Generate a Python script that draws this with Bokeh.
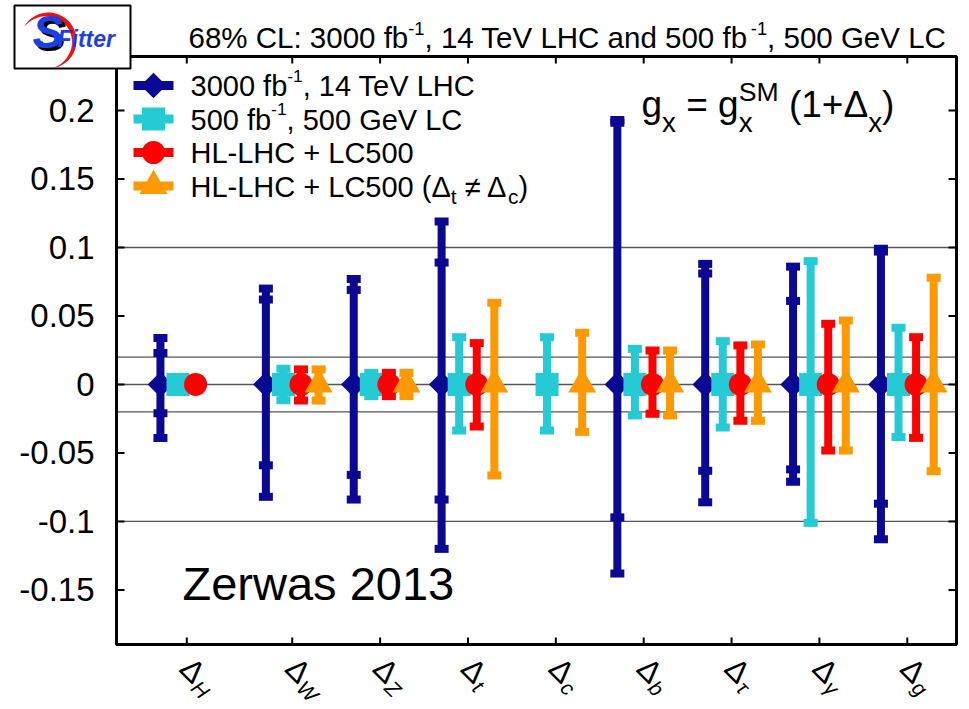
import numpy as np
from bokeh.plotting import figure
from bokeh.models import Range1d, Label, PolyAnnotation, BoxAnnotation
from bokeh.core.properties import value
from bokeh.embed import file_html
from bokeh.resources import INLINE

# ---------------- data ----------------
categories = ["H", "W", "Z", "t", "c", "b", "τ", "γ", "g"]
cat_x = [-0.2, 1, 2, 3, 4, 5, 6, 7, 8]

lhc_center = [0, 0, 0, 0, None, 0, 0, 0, 0]
lhc_outer_hi = [0.034, 0.070, 0.077, 0.119, None, 0.193, 0.088, 0.086, 0.099]
lhc_outer_lo = [-0.039, -0.082, -0.084, -0.120, None, -0.138, -0.086, -0.071, -0.113]
lhc_inner_hi = [0.023, 0.062, 0.069, 0.089, None, 0.191, 0.081, 0.061, 0.097]
lhc_inner_lo = [-0.021, -0.059, -0.066, -0.084, None, -0.097, -0.063, -0.062, -0.087]

lc_center = [0, 0, 0, 0, 0, 0, 0, 0, 0]
lc_hi = [0.004, 0.0115, 0.0085, 0.0345, 0.0345, 0.026, 0.0316, 0.090, 0.0414]
lc_lo = [-0.004, -0.0115, -0.0085, -0.0336, -0.0336, -0.0226, -0.0314, -0.101, -0.0384]

comb_center = [0, 0, 0, 0, None, 0, 0, 0, 0]
comb_hi = [0.004, 0.011, 0.0085, 0.0302, None, 0.0248, 0.0285, 0.0443, 0.0345]
comb_lo = [-0.004, -0.0117, -0.0085, -0.0307, None, -0.0214, -0.0265, -0.0482, -0.039]

combtc_center = [None, 0, 0, 0, 0, 0, 0, 0, 0]
combtc_hi = [None, 0.011, 0.0085, 0.0596, 0.0377, 0.0248, 0.0292, 0.0467, 0.0779]
combtc_lo = [None, -0.0117, -0.0085, -0.0664, -0.0346, -0.0226, -0.0265, -0.0482, -0.0633]

ytick_vals = [-0.15, -0.1, -0.05, 0.0, 0.05, 0.1, 0.15, 0.2]
ytick_labels = ["-0.15", "-0.1", "-0.05", "0", "0.05", "0.1", "0.15", "0.2"]
ref_lines = [0.1, 0.02, 0.0, -0.02, -0.1]

# ---------------- layout ----------------
W_, H_ = 969, 709
FL, FR, FT, FB = 116, 956, 56, 644          # plot box in page pixels
XMIN, XMAX = -1.0, 8.56                       # data limits of the plot box
YMIN, YMAX = -0.1898, 0.2394
XU = (FR - FL) / (XMAX - XMIN)
YU = (FB - FT) / (YMAX - YMIN)


def dx(px):
    return XMIN + (px - FL) / XU


def dy(py):
    return YMAX - (py - FT) / YU


def sx(xd):
    return FL + (xd - XMIN) * XU


NAVY = "#0b0893"
CYAN = "#24cad4"
RED = "#ff0000"
ORANGE = "#ff9900"
FONT = "Liberation Sans"
THETA = np.deg2rad(45)

# the canvas is one frame; the plot box is drawn inside it through the same scales
p = figure(width=W_, height=H_, x_range=Range1d(dx(0), dx(W_)), y_range=Range1d(dy(H_), dy(0)),
           output_backend="svg", toolbar_location=None, x_axis_location=None,
           y_axis_location=None, min_border=0, background_fill_color="white",
           border_fill_color="white", outline_line_color=None)
p.title.visible = False
p.grid.visible = False

# reference lines inside the box
p.segment(x0=[XMIN] * len(ref_lines), x1=[XMAX] * len(ref_lines), y0=ref_lines, y1=ref_lines,
          line_color="#555555", line_width=1.3)

# ---------------- ticks (inward on all four sides) ----------------
TL_Y, TL_X, TW = 8, 7, 2
n_y, n_x = len(ytick_vals), len(cat_x)
p.rect(x=[XMIN + TL_Y / 2 / XU] * n_y, y=ytick_vals, width=TL_Y, height=TW,
       width_units="screen", height_units="screen", fill_color="black", line_color=None)
p.rect(x=[XMAX - TL_Y / 2 / XU] * n_y, y=ytick_vals, width=TL_Y, height=TW,
       width_units="screen", height_units="screen", fill_color="black", line_color=None)
p.rect(x=cat_x, y=[YMIN + TL_X / 2 / YU] * n_x, width=TW, height=TL_X,
       width_units="screen", height_units="screen", fill_color="black", line_color=None)
p.rect(x=cat_x, y=[YMAX - TL_X / 2 / YU] * n_x, width=TW, height=TL_X,
       width_units="screen", height_units="screen", fill_color="black", line_color=None)

# y tick labels
p.text(x=[dx(FL - 22)] * n_y, y=ytick_vals, text=ytick_labels, text_align="right",
       text_baseline="middle", text_font=value(FONT), text_font_size="33px",
       text_color="black")

# ---------------- error bars ----------------
BAR_W = 8
CAP_W, CAP_H = 14, 8


def draw_series(offset, center, hi, lo, color, marker, msize, angle=0.0,
                ihi=None, ilo=None):
    xs, ys, his, los, cx, cy = [], [], [], [], [], []
    for i, c in enumerate(center):
        if c is None:
            continue
        x = cat_x[i] + offset
        xs.append(x)
        ys.append(c)
        his.append(hi[i])
        los.append(lo[i])
        cx += [x, x]
        cy += [hi[i], lo[i]]
        if ihi is not None:
            cx += [x, x]
            cy += [ihi[i], ilo[i]]
    p.segment(x0=xs, y0=los, x1=xs, y1=his, line_width=BAR_W, line_color=color)
    p.rect(x=cx, y=cy, width=CAP_W, height=CAP_H, width_units="screen",
           height_units="screen", fill_color=color, line_color=None)
    p.scatter(x=xs, y=ys, marker=marker, size=msize, angle=angle,
              fill_color=color, line_color=None)


draw_series(-0.3, lhc_center, lhc_outer_hi, lhc_outer_lo, NAVY, "square", 18,
            angle=np.pi / 4, ihi=lhc_inner_hi, ilo=lhc_inner_lo)
draw_series(-0.1, lc_center, lc_hi, lc_lo, CYAN, "square", 23)
draw_series(0.1, comb_center, comb_hi, comb_lo, RED, "circle", 23)
draw_series(0.3, combtc_center, combtc_hi, combtc_lo, ORANGE, "triangle", 28)

# plot box outline
p.add_layout(BoxAnnotation(left=XMIN, right=XMAX, bottom=YMIN, top=YMAX, fill_alpha=0,
                           line_color="black", line_alpha=1, line_width=3))

# ---------------- text helpers ----------------
CW = {' ': 278, '%': 889, '(': 333, ')': 333, '+': 584, ',': 278, '-': 333, '.': 278,
      ':': 278, '=': 584, 'A': 667, 'C': 722, 'G': 778, 'H': 722, 'L': 556, 'M': 833,
      'S': 667, 'T': 611, 'V': 667, 'W': 944, 'Z': 611, 'a': 556, 'b': 556, 'c': 500,
      'd': 556, 'e': 556, 'f': 278, 'g': 556, 'n': 556, 'r': 333, 's': 500, 't': 278,
      'w': 722, 'x': 500, 'Δ': 668, '≠': 548, 'τ': 440, 'γ': 500}


def tw(s, size):
    return sum(CW.get(ch, 556) for ch in s) * size / 1000.0


def plabel(px, py, text, size, color="black", style="normal", align="left", angle=0.0):
    """Text centred vertically (middle baseline) at page pixel py."""
    p.add_layout(Label(x=dx(px), y=dy(py), text=text, text_font=FONT,
                       text_font_size=f"{size:.1f}px", text_color=color,
                       text_font_style=style, text_align=align,
                       text_baseline="middle", angle=angle))


def rich(parts, x0, base, size, color="black", sup=(0.62, 0.45), sub=(0.72, 0.25),
         style="normal"):
    """Run of text pieces on an alphabetic baseline `base` (page pixels)."""
    x = x0
    for txt, kind in parts:
        if kind == "sup":
            fs, off = size * sup[0], -size * sup[1]
        elif kind == "sub":
            fs, off = size * sub[0], size * sub[1]
        else:
            fs, off = size, 0.0
        lead = len(txt) - len(txt.lstrip(" "))
        core = txt.strip(" ")
        if core:
            plabel(x + tw(" " * lead, fs), base + off - 0.36 * fs, core, fs,
                   color=color, style=style)
        x += tw(txt, fs)
    return x


# title line
rich([("68% CL: 3000 fb", "n"), ("-1", "sup"), (", 14 TeV LHC and 500 fb", "n"),
      ("-1", "sup"), (", 500 GeV LC", "n")], 188, 48, 29.5)

# formula
FS = 37
xf = rich([("g", "n"), ("x", "sub"), (" = g", "n")], 641, 117, FS, sub=(0.75, 0.4))
xa = rich([("SM", "sup")], xf, 117, FS, sup=(0.72, 0.42))
rich([("x", "sub")], xf, 117, FS, sub=(0.75, 0.4))
rich([(" (1+Δ", "n"), ("x", "sub"), (")", "n")], xa, 117, FS, sub=(0.75, 0.4))

# author
rich([("Zerwas 2013", "n")], 182, 600, 47)

# ---------------- legend ----------------
leg_rows = [
    [("3000 fb", "n"), ("-1", "sup"), (", 14 TeV LHC", "n")],
    [("500 fb", "n"), ("-1", "sup"), (", 500 GeV LC", "n")],
    [("HL-LHC + LC500", "n")],
    [("HL-LHC + LC500 (", "n"), ("Δ", "n"), ("t", "sub"), (" ≠ Δ", "n"), ("c", "sub"), (")", "n")],
]
leg_style = [(NAVY, "square", 18, np.pi / 4), (CYAN, "square", 23, 0.0),
             (RED, "circle", 23, 0.0), (ORANGE, "triangle", 28, 0.0)]
for i, (parts, (col, mk, ms, ang)) in enumerate(zip(leg_rows, leg_style)):
    yc = 85 + 33.5 * i
    p.rect(x=[dx(153)], y=[dy(yc)], width=40, height=9, width_units="screen",
           height_units="screen", fill_color=col, line_color=None)
    p.scatter(x=[dx(153)], y=[dy(yc)], marker=mk, size=ms, angle=ang,
              fill_color=col, line_color=None)
    rich(parts, 190, yc + 11, 29, sup=(0.6, 0.5), sub=(0.72, 0.25))

# ---------------- rotated x labels ----------------
ux, uy = np.cos(THETA), np.sin(THETA)
nx, ny = -np.sin(THETA), np.cos(THETA)
DS, SS = 31, 21
for xc, sub in zip(cat_x, categories):
    cx0, cy0 = sx(xc) + 6, 670          # centre of the rotated "Δ"
    plabel(cx0, cy0, "Δ", DS, align="center", angle=-THETA)
    a = 0.5 * tw("Δ", DS) + 0.5 * tw(sub, SS) + 1
    b = 8
    plabel(cx0 + a * ux + b * nx, cy0 + a * uy + b * ny, sub, SS, style="italic",
           align="center", angle=-THETA)

# ---------------- logo ----------------
p.add_layout(BoxAnnotation(left=dx(14), right=dx(130), top=dy(5), bottom=dy(68),
                           fill_color="white", fill_alpha=1, line_color="black",
                           line_alpha=1, line_width=2))
angs = np.deg2rad(np.linspace(150, -80, 40))
thick = 5.0 * np.sin(np.linspace(0, np.pi, 40)) ** 0.8
cxp, cyp, r0 = 48, 40, 28
outer_x = cxp + r0 * np.cos(angs)
outer_y = cyp - r0 * np.sin(angs)
inner_x = cxp + (r0 - thick) * np.cos(angs)
inner_y = cyp - (r0 - thick) * np.sin(angs)
px_poly = np.concatenate([outer_x, inner_x[::-1]])
py_poly = np.concatenate([outer_y, inner_y[::-1]])
p.add_layout(PolyAnnotation(xs=[dx(v) for v in px_poly], ys=[dy(v) for v in py_poly],
                            fill_color="#ee1111", fill_alpha=1, line_color=None))
plabel(35, 34, "S", 46, color="black", style="bold italic")
plabel(32, 31, "S", 46, color="#1b3fe6", style="bold italic")
plabel(57, 38, "Fitter", 23, color="#1b3fe6", style="bold italic")

open("out.html", "w").write(file_html(p, INLINE))
